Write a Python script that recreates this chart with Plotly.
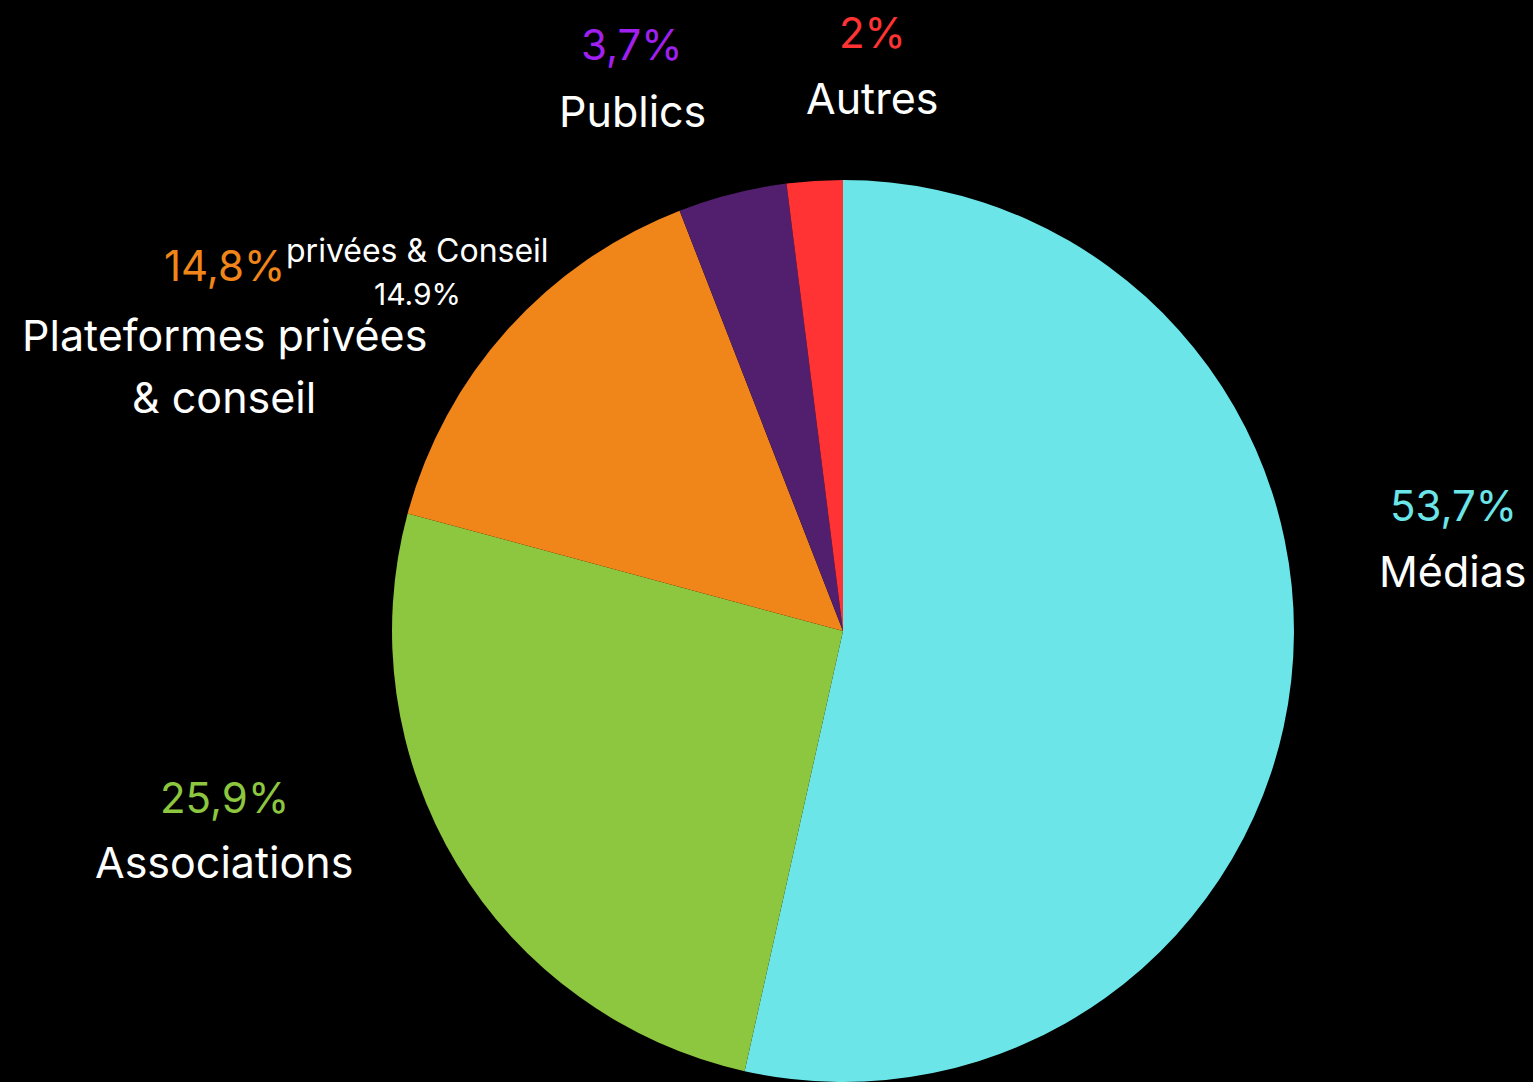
import plotly.graph_objects as go

categories = ["Médias", "Associations", "Plateformes privées & Conseil", "Publics", "Autres"]
values = [53.5, 25.7, 14.9, 3.9, 2.0]
slice_colors = ["#6CE5E8", "#8DC63F", "#F08519", "#521E6E", "#FF3333"]

label_pct = ["53,7%", "25,9%", "14,8%", "3,7%", "2%"]
label_names = [["Médias"], ["Associations"], ["Plateformes privées", "& conseil"], ["Publics"], ["Autres"]]
pct_colors = ["#6CE5E8", "#8DC63F", "#F08519", "#A020F0", "#FF3333"]
remnant_lines = ["privées & Conseil", "14.9%"]

FONT = "Inter, Lato, sans-serif"
W, H = 1533, 1082

fig = go.Figure(go.Pie(
    labels=categories,
    values=values,
    sort=False,
    direction="clockwise",
    rotation=0,
    marker=dict(colors=slice_colors, line=dict(width=0)),
    textinfo="none",
    hoverinfo="label+percent",
    domain=dict(x=[0.2557, 0.8441], y=[0.0, 0.8336]),
    showlegend=False,
))

# label anchor positions in pixels: (x center, pct y center, first name line y center)
pos = [
    (1453, 505, 571),
    (224, 797, 862),
    (224, 265, 335),
    (632, 45, 111),
    (872, 32, 98),
]
LINE = 62
annotations = []
for (x, yp, yn), p, names, c in zip(pos, label_pct, label_names, pct_colors):
    annotations.append(dict(x=x / W, y=1 - yp / H, xref="paper", yref="paper", text=p, showarrow=False,
                            font=dict(family=FONT, size=42, color=c), xanchor="center", yanchor="middle",
                            borderpad=0))
    for i, n in enumerate(names):
        annotations.append(dict(x=x / W, y=1 - (yn + i * LINE) / H, xref="paper", yref="paper", text=n,
                                showarrow=False, font=dict(family=FONT, size=43, color="white"),
                                xanchor="center", yanchor="middle", borderpad=0))

# remnant of the pie's own outside label
for i, (t, s) in enumerate(zip(remnant_lines, [32, 30])):
    annotations.append(dict(x=417 / W, y=1 - (251 + 43 * i) / H, xref="paper", yref="paper",
                            text=t, showarrow=False,
                            font=dict(family=FONT, size=s, color="white"),
                            xanchor="center", yanchor="middle", borderpad=0))

fig.update_layout(
    width=W, height=H,
    paper_bgcolor="black", plot_bgcolor="black",
    margin=dict(l=0, r=0, t=0, b=0),
    annotations=annotations,
)

fig.write_html("out.html", config={"displayModeBar": False},
               post_script="document.body.style.margin='0';document.body.style.background='black';")
